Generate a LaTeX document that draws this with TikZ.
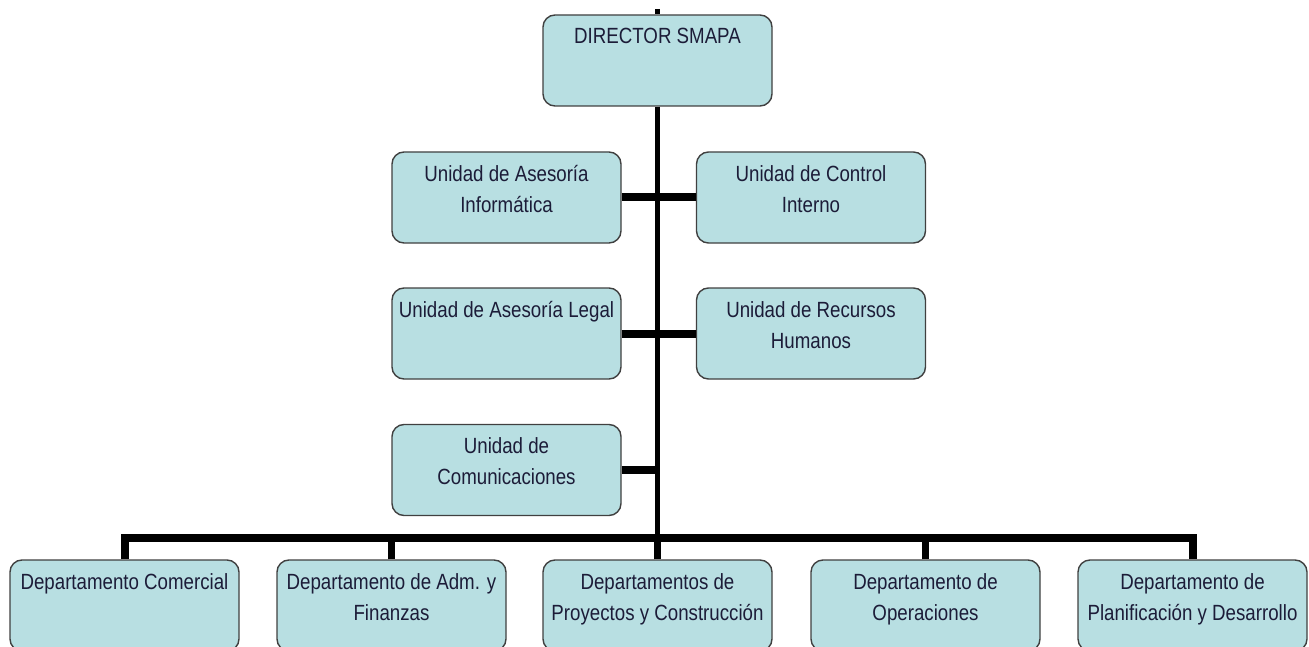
\documentclass[tikz,border=0pt]{standalone}
\usepackage{fontspec}
\setmainfont{Liberation Sans}[FakeStretch=0.85]
\definecolor{boxfill}{HTML}{B8DFE2}
\definecolor{boxline}{HTML}{404040}
\definecolor{txtcol}{HTML}{1C1C38}
\begin{document}
\begin{tikzpicture}[x=1pt,y=-1pt,
  box/.style={draw=boxline, line width=1.4pt, fill=boxfill, rounded corners=12pt,
    minimum width=229pt, minimum height=91pt, inner sep=0pt},
  lbl/.style={anchor=north, inner sep=0pt, align=center, text=txtcol,
    font=\fontsize{22}{31}\selectfont},
  trunk/.style={line width=4.5pt, black},
  link/.style={line width=8pt, black},
  busline/.style={line width=8pt, black, line join=miter},
  drop/.style={line width=7pt, black}]
\useasboundingbox (0,0) rectangle (1309,647);
\clip (0,0) rectangle (1309,647);
% boxes
\node[box] (dir) at (657.5,60.5) {};
\node[box] (inf) at (506.5,197.5) {};
\node[box] (ci)  at (811,197.5) {};
\node[box] (leg) at (506.5,333.5) {};
\node[box] (rh)  at (811,333.5) {};
\node[box] (com) at (506.5,470) {};
\node[box] (dc)  at (124.5,605.5) {};
\node[box] (da)  at (391.5,605.5) {};
\node[box] (dp)  at (657.5,605.5) {};
\node[box] (dop) at (925.5,605.5) {};
\node[box] (dpl) at (1192.5,605.5) {};
% labels
\node[lbl] (tdir) at ([yshift=-14pt]dir.north) {DIRECTOR SMAPA};
\node[lbl] (tinf) at ([yshift=-14pt]inf.north) {Unidad de Asesoría\\Informática};
\node[lbl] (tci)  at ([yshift=-14pt]ci.north)  {Unidad de Control\\Interno};
\node[lbl] (tleg) at ([yshift=-14pt]leg.north) {Unidad de Asesoría Legal};
\node[lbl] (trh)  at ([yshift=-14pt]rh.north)  {Unidad de Recursos\\Humanos};
\node[lbl] (tcom) at ([yshift=-14pt]com.north) {Unidad de\\Comunicaciones};
\node[lbl] (tdc)  at ([yshift=-14pt]dc.north)  {Departamento Comercial};
\node[lbl] (tda)  at ([yshift=-14pt]da.north)  {Departamento de Adm. y\\Finanzas};
\node[lbl] (tdp)  at ([yshift=-14pt]dp.north)  {Departamentos de\\Proyectos y Construcción};
\node[lbl] (tdop) at ([yshift=-14pt]dop.north) {Departamento de\\Operaciones};
\node[lbl] (tdpl) at ([yshift=-14pt]dpl.north) {Departamento de\\Planificación y Desarrollo};
% connectors
\coordinate (top) at (657.5,9);
\coordinate (busc) at (657.5,538);
\coordinate (comj) at (657.5,470);
\draw[line width=5pt] (top) -- (dir.north);
\draw[trunk] (dir.south) -- (busc);
\draw[link] (inf.east) -- (ci.west);
\draw[link] (leg.east) -- (rh.west);
\draw[link] (com.east) -- (comj);
\draw[busline] (dc.north) -- (dc.north |- busc) -- (dpl.north |- busc) -- (dpl.north);
\draw[drop] (da.north) -- (da.north |- busc);
\draw[drop] (dp.north) -- (busc);
\draw[drop] (dop.north) -- (dop.north |- busc);
\end{tikzpicture}
\end{document}
